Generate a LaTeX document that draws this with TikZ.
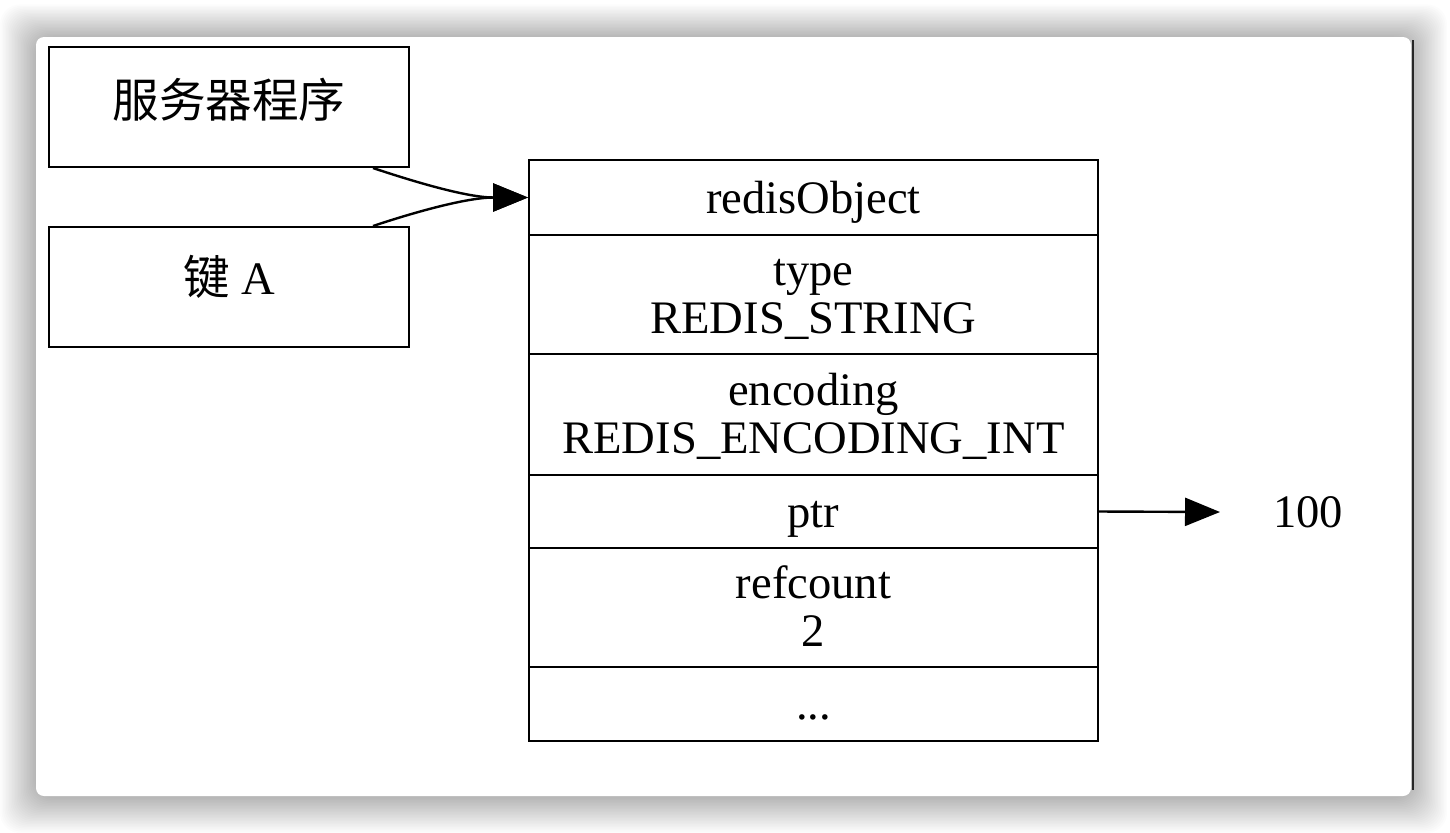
\documentclass[tikz,border=0pt]{standalone}
\usepackage{fontspec}
\setmainfont{Liberation Serif}
\newfontfamily\cjk{Noto Sans CJK SC}
\usetikzlibrary{arrows.meta}
\begin{document}
\begin{tikzpicture}[x=0.5pt,y=-0.5pt,
  box/.style={draw=black,line width=1pt,minimum width=180pt,minimum height=60pt,inner sep=0pt},
  row/.style={draw=black,line width=1pt,minimum width=284.5pt,inner sep=0pt},
  link/.style={line width=1.2pt,-{Triangle[length=17.5pt,width=14pt]}},
  lbl/.style={inner sep=0pt,anchor=base,font=\fontsize{23.3}{26}\selectfont}]
\useasboundingbox (0,0) rectangle (1450,832);
\fill[white] (0,0) rectangle (1450,832);
% soft shadow
\foreach \i in {1,...,24}{
  \fill[black,opacity=0.011,rounded corners=10pt] (36-1.5*\i,38-1.4*\i) rectangle (1411+1.5*\i,797+1.5*\i);
}
\fill[white,rounded corners=4pt] (36,37) rectangle (1411,796);
\draw[black!85,line width=1pt] (1413,40) -- (1413,790);
% boxes
\node[box] (srv) at (229,107) {};
\node[box] (keyA) at (229,287) {};
\node[lbl] (srvt) at (229,117) {\cjk 服务器程序};
\node[lbl] (keyAt) at (229,294) {{\cjk 键}\ A};
% record rows
\node[row,minimum height=37.5pt] (r1) at (813.5,197.5) {};
\node[row,minimum height=59.5pt] (r2) at (813.5,294.5) {};
\node[row,minimum height=60.5pt] (r3) at (813.5,414.5) {};
\node[row,minimum height=36.5pt] (r4) at (813.5,511.5) {};
\node[row,minimum height=59.5pt] (r5) at (813.5,607.5) {};
\node[row,minimum height=37pt] (r6) at (813.5,704) {};
\node[lbl] (t1) at (813.5,213) {redisObject};
\node[lbl] (t2a) at (813.5,285) {type};
\node[lbl] (t2b) at (813.5,333) {REDIS\_STRING};
\node[lbl] (t3a) at (813.5,405) {encoding};
\node[lbl] (t3b) at (813.5,453) {REDIS\_ENCODING\_INT};
\node[lbl] (t4) at (813.5,527) {ptr};
\node[lbl] (t5a) at (813.5,598) {refcount};
\node[lbl] (t5b) at (813.5,646) {2};
\node[lbl] (t6) at (813.5,719.5) {...};
\node[lbl] (val) at (1308,527) {100};
\coordinate (tip) at (1220,512);
% connectors
\draw[link] ([xshift=-18.5pt]srv.south east) .. controls +(45,15) and +(-60,0) .. (r1.west);
\draw[link] ([xshift=-18.5pt]keyA.north east) .. controls +(45,-15) and +(-60,0) .. (r1.west);
\draw[link] (r4.east) -- (tip);
\end{tikzpicture}
\end{document}
